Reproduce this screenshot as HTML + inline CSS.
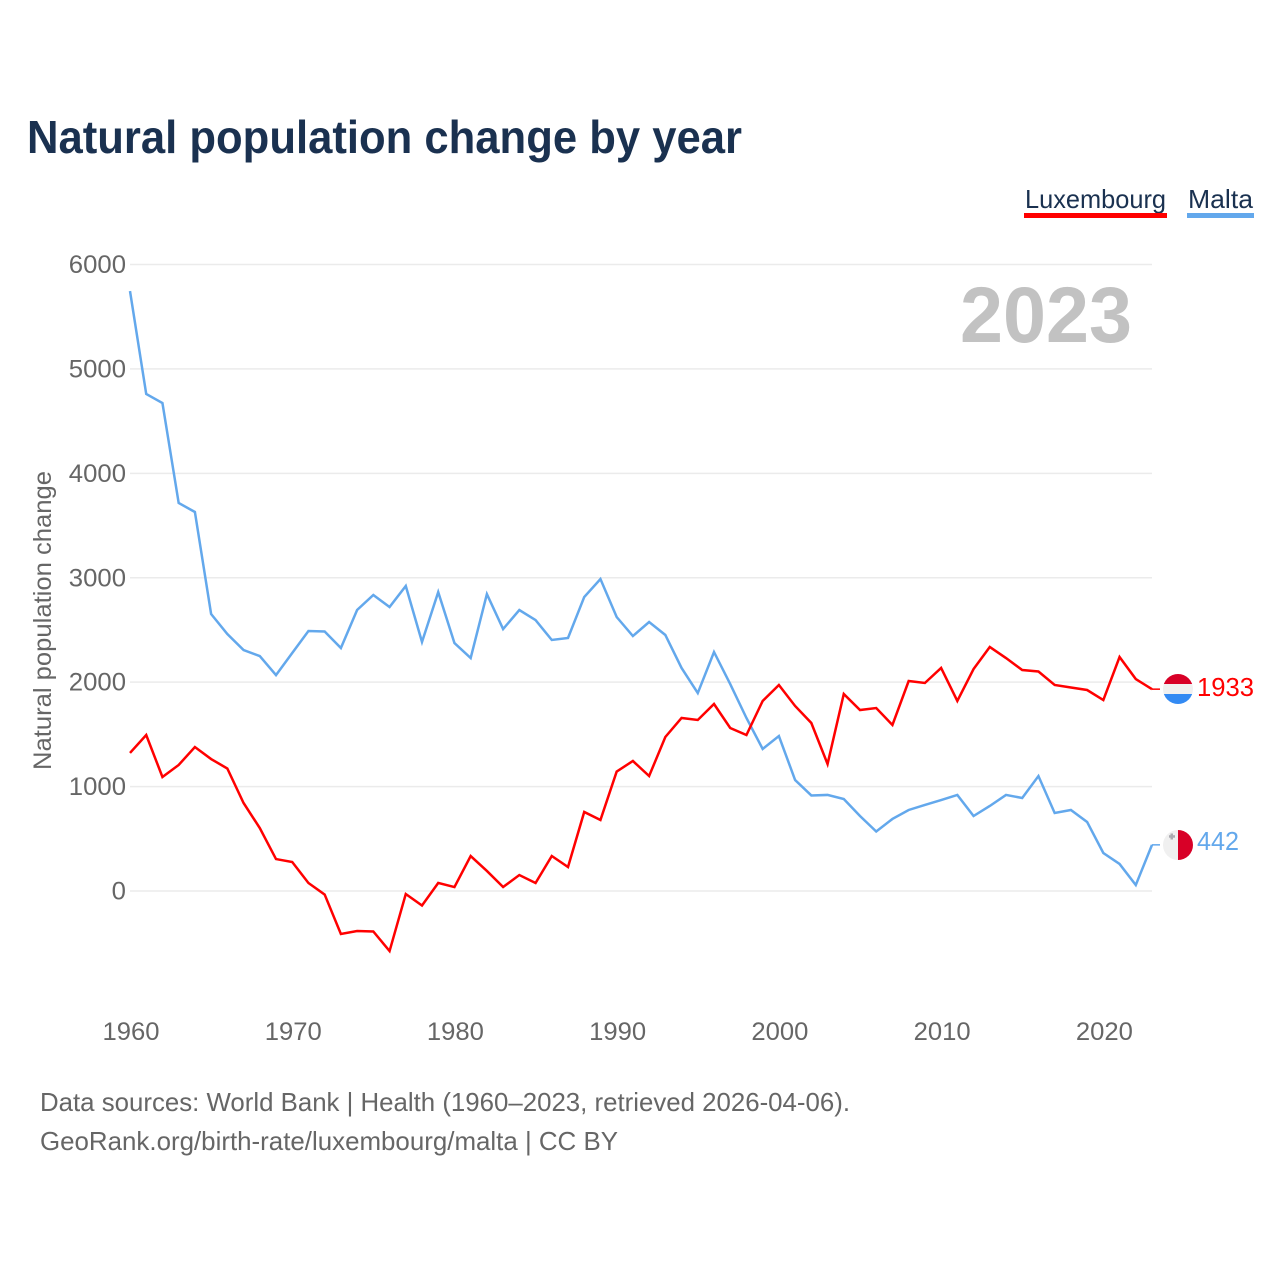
<!DOCTYPE html>
<html lang="en">
<head>
<meta charset="utf-8">
<title>Natural population change by year</title>
<style>
html,body{margin:0;padding:0;background:#fff;width:1280px;height:1280px;overflow:hidden}
svg{display:block}
text{font-family:"Liberation Sans",sans-serif}
</style>
</head>
<body>
<svg id="chart" xmlns="http://www.w3.org/2000/svg" width="1280" height="1280" viewBox="0 0 1280 1280">
  <rect x="0" y="0" width="1280" height="1280" fill="#fff"/>
  <text x="27" y="153" font-size="46" font-weight="700" fill="#1a3150" textLength="715" lengthAdjust="spacingAndGlyphs">Natural population change by year</text>
  <g>
    <g>
      <text x="1025" y="208" font-size="26" fill="#1a3150" textLength="141" lengthAdjust="spacingAndGlyphs">Luxembourg</text>
      <rect x="1024" y="213" width="143" height="5" fill="#ff0000"/>
    </g>
    <g>
      <text x="1188" y="208" font-size="26" fill="#1a3150" textLength="65" lengthAdjust="spacingAndGlyphs">Malta</text>
      <rect x="1187" y="213" width="67" height="5" fill="#63a8ec"/>
    </g>
  </g>
  <g id="grid"></g>
  <g id="yticks"></g>
  <g id="xticks"></g>
  <text transform="translate(51,770) rotate(-90)" x="0" y="0" font-size="25" fill="#666" textLength="299" lengthAdjust="spacingAndGlyphs">Natural population change</text>
  <text x="960" y="342" font-size="79" font-weight="700" fill="#c2c2c2" textLength="172" lengthAdjust="spacingAndGlyphs">2023</text>
  <g id="series"></g>
  <g>
    <clipPath id="clip-lux"><circle cx="1178" cy="689" r="15"/></clipPath>
    <g clip-path="url(#clip-lux)">
      <rect x="1163" y="674" width="30" height="10" fill="#d80027"/>
      <rect x="1163" y="684" width="30" height="10" fill="#f0f0f0"/>
      <rect x="1163" y="694" width="30" height="10" fill="#338af3"/>
    </g>
  </g>
  <g>
    <clipPath id="clip-mlt"><circle cx="1178" cy="845" r="15"/></clipPath>
    <g clip-path="url(#clip-mlt)">
      <rect x="1163" y="830" width="15" height="30" fill="#f0f0f0"/>
      <rect x="1178" y="830" width="15" height="30" fill="#d80027"/>
      <rect x="1170.5" y="833.5" width="2.5" height="6" fill="#acabb1"/>
      <rect x="1169" y="835.2" width="6" height="2.5" fill="#acabb1"/>
    </g>
  </g>
  <text id="value-lux" x="1197" y="696" font-size="26" fill="#ff0000" textLength="57" lengthAdjust="spacingAndGlyphs"></text>
  <text id="value-mlt" x="1197" y="850" font-size="26" fill="#63a8ec" textLength="42" lengthAdjust="spacingAndGlyphs"></text>
  <g>
    <text x="40" y="1111" font-size="26" fill="#666" textLength="810" lengthAdjust="spacingAndGlyphs">Data sources: World Bank | Health (1960–2023, retrieved 2026-04-06).</text>
    <text x="40" y="1150" font-size="26" fill="#666" textLength="578" lengthAdjust="spacingAndGlyphs">GeoRank.org/birth-rate/luxembourg/malta | CC BY</text>
  </g>
</svg>
<script>
const startYear = 1960;
const yTickValues = [0, 1000, 2000, 3000, 4000, 5000, 6000];
const xTickValues = [1960, 1970, 1980, 1990, 2000, 2010, 2020];
const luxembourgValues = [1322,1494,1092,1207,1379,1264,1173,843,603,306,278,77,-34,-412,-383,-388,-575,-29,-139,77,38,335,192,38,153,77,335,230,757,680,1144,1245,1101,1475,1657,1638,1791,1561,1494,1820,1973,1772,1609,1216,1887,1733,1752,1590,2011,1992,2136,1820,2126,2337,2231,2116,2102,1973,1949,1925,1829,2241,2030,1933];
const maltaValues = [5746,4760,4673,3716,3630,2653,2461,2308,2250,2068,2279,2490,2485,2327,2691,2835,2720,2921,2385,2863,2375,2231,2844,2509,2691,2595,2404,2423,2815,2988,2624,2442,2576,2452,2136,1896,2289,1982,1657,1360,1484,1063,915,920,881,718,570,690,776,824,871,920,718,814,920,891,1101,747,776,661,364,259,57,442];

const NS = 'http://www.w3.org/2000/svg';
function xScale(year) { return 130 + (year - 1960) * (1152 - 130) / 63; }
function yScale(v) { return 891 - v * (891 - 264.5) / 6000; }
function make(tag, attrs) {
  const el = document.createElementNS(NS, tag);
  for (const k in attrs) el.setAttribute(k, attrs[k]);
  return el;
}
const gridG = document.getElementById('grid');
const yG = document.getElementById('yticks');
const xG = document.getElementById('xticks');
const seriesG = document.getElementById('series');

yTickValues.forEach(function (v) {
  const line = make('line', { x1: 130, x2: 1152, y1: yScale(v), y2: yScale(v), stroke: '#ebebeb', 'stroke-width': 1.5 });
  
  
  gridG.appendChild(line);
  const t = make('text', { x: 126, y: yScale(v) + 8.5, 'font-size': 25, fill: '#666', 'text-anchor': 'end', textLength: String(v).length * 14.3, lengthAdjust: 'spacingAndGlyphs' });
  
  
  t.textContent = String(v);
  yG.appendChild(t);
});

xTickValues.forEach(function (yr) {
  const t = make('text', { x: xScale(yr) + 1, y: 1040, 'font-size': 25, fill: '#666', 'text-anchor': 'middle', textLength: 57, lengthAdjust: 'spacingAndGlyphs' });
  
  
  t.textContent = String(yr);
  xG.appendChild(t);
});

function linePath(values) {
  let d = '';
  values.forEach(function (v, i) {
    d += (i ? 'L' : 'M') + xScale(startYear + i).toFixed(2) + ' ' + yScale(v).toFixed(2);
  });
  return d;
}
function tailPath(values) {
  const lastYear = startYear + values.length - 1;
  const lastY = yScale(values[values.length - 1]).toFixed(2);
  return 'M' + xScale(lastYear).toFixed(2) + ' ' + lastY + 'L' + (xScale(lastYear) + 8).toFixed(2) + ' ' + lastY;
}

const maltaLine = make('path', { d: linePath(maltaValues), fill: 'none', stroke: '#63a8ec', 'stroke-width': 2.5, 'stroke-linejoin': 'miter' });


seriesG.appendChild(maltaLine);

const maltaTail = make('path', { d: tailPath(maltaValues), fill: 'none', stroke: '#63a8ec', 'stroke-width': 1.5 });


seriesG.appendChild(maltaTail);

const luxLine = make('path', { d: linePath(luxembourgValues), fill: 'none', stroke: '#ff0000', 'stroke-width': 2.5, 'stroke-linejoin': 'miter' });


seriesG.appendChild(luxLine);

const luxTail = make('path', { d: tailPath(luxembourgValues), fill: 'none', stroke: '#ff0000', 'stroke-width': 1.5 });


seriesG.appendChild(luxTail);

document.getElementById('value-lux').textContent = String(luxembourgValues[luxembourgValues.length - 1]);
document.getElementById('value-mlt').textContent = String(maltaValues[maltaValues.length - 1]);
</script>
</body>
</html>
